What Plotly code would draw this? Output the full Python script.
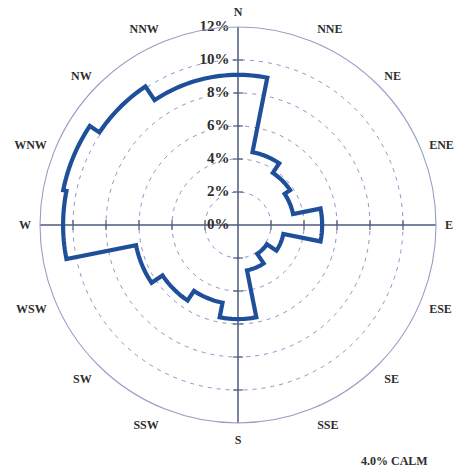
import numpy as np
import plotly.graph_objects as go

# Wind direction sectors (16-point compass) and frequency of occurrence (%)
directions = ["N", "NNE", "NE", "ENE", "E", "ESE", "SE", "SSE",
              "S", "SSW", "SW", "WSW", "W", "WNW", "NW", "NNW"]
frequency = [9.1, 4.5, 3.8, 3.4, 5.1, 2.8, 2.1, 2.8,
             5.7, 4.8, 5.5, 6.3, 10.6, 10.8, 10.1, 9.1]
radial_ticks = [0, 2, 4, 6, 8, 10, 12]
radial_labels = ["0%", "2%", "4%", "6%", "8%", "10%", "12%"]
calm_text = "4.0% CALM"

sector = 360 / len(directions)
centers = [i * sector for i in range(len(directions))]

# Stepped rose outline: an arc at each sector's frequency, joined radially
theta_pts, r_pts = [], []
for c, v in zip(centers, frequency):
    arc = np.linspace(c - sector / 2, c + sector / 2, 16)
    theta_pts.extend(arc.tolist())
    r_pts.extend([v] * len(arc))
theta_pts.append(theta_pts[0])
r_pts.append(r_pts[0])

axis_color = "#4e5a7c"
grid_color = "#8e92c6"
text_color = "#2e2e2e"
rmax = radial_ticks[-1]

fig = go.Figure()

# N-S and E-W axis lines
for a in (0, 90):
    fig.add_trace(go.Scatterpolar(
        r=[rmax, 0, rmax], theta=[a, 0, a + 180], mode="lines",
        line=dict(color=axis_color, width=1.5), hoverinfo="skip", showlegend=False))

# small tick marks along the axes
tick_r = radial_ticks[1:-1]
fig.add_trace(go.Scatterpolar(
    r=tick_r * 2, theta=[0] * len(tick_r) + [180] * len(tick_r), mode="markers",
    marker=dict(symbol="line-ew", size=7, line=dict(color=axis_color, width=1.2)),
    hoverinfo="skip", showlegend=False))
fig.add_trace(go.Scatterpolar(
    r=tick_r * 2, theta=[90] * len(tick_r) + [270] * len(tick_r), mode="markers",
    marker=dict(symbol="line-ns", size=7, line=dict(color=axis_color, width=1.2)),
    hoverinfo="skip", showlegend=False))

# percentage labels along the north axis (invisible markers pad the text off the axis)
fig.add_trace(go.Scatterpolar(
    r=radial_ticks, theta=[0] * len(radial_ticks), mode="markers+text",
    marker=dict(size=12, color="rgba(0,0,0,0)"),
    text=radial_labels, textposition="middle left",
    textfont=dict(family="Liberation Serif", size=15, color=text_color, weight="bold"),
    hoverinfo="skip", showlegend=False))

# wind rose outline
fig.add_trace(go.Scatterpolar(
    r=r_pts, theta=theta_pts, mode="lines",
    line=dict(color="#1f4f99", width=4.2), showlegend=False))

W, H = 461, 473
cx, cy, R = 238, 225, 198
fig.update_layout(
    width=W, height=H,
    margin=dict(l=0, r=0, t=0, b=0),
    paper_bgcolor="white",
    plot_bgcolor="white",
    polar=dict(
        domain=dict(x=[(cx - R) / W, (cx + R) / W],
                    y=[1 - (cy + R) / H, 1 - (cy - R) / H]),
        bgcolor="white",
        angularaxis=dict(
            rotation=90, direction="clockwise",
            tickmode="array", tickvals=centers, ticktext=directions,
            showgrid=False, ticks="outside", ticklen=6, tickcolor="rgba(0,0,0,0)",
            showline=True, linecolor="#9a9cc4", linewidth=1.1,
            tickfont=dict(family="Liberation Serif", size=12, color=text_color, weight="bold"),
        ),
        radialaxis=dict(
            range=[0, rmax], angle=90,
            tickmode="array", tickvals=radial_ticks,
            showticklabels=False, showline=False, ticks="",
            gridcolor=grid_color, griddash="4px,5px", gridwidth=1.4,
        ),
    ),
    annotations=[dict(
        text=calm_text, x=394 / W, y=1 - 461 / H, xref="paper", yref="paper",
        showarrow=False, xanchor="center", yanchor="middle",
        font=dict(family="Liberation Serif", size=12, color=text_color, weight="bold"),
    )],
)

fig.write_html("out.html")
